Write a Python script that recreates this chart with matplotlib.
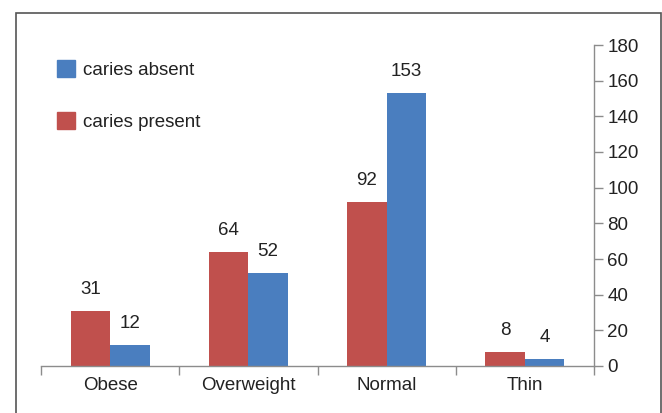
import matplotlib
matplotlib.use("Agg")
import matplotlib.pyplot as plt
from matplotlib.patches import Rectangle, Patch
import numpy as np

categories = ["Obese", "Overweight", "Normal", "Thin"]
caries_present = [31, 64, 92, 8]
caries_absent = [12, 52, 153, 4]
y_ticks = [0, 20, 40, 60, 80, 100, 120, 140, 160, 180]

RED = "#C0504D"
BLUE = "#4A7EBF"
TXT = "#222222"
GREY = "#8C8C8C"
FS = 13.5

plt.rcParams['font.family'] = ['Liberation Sans', 'DejaVu Sans']

W, H = 662, 413
fig = plt.figure(figsize=(W/100, H/100), dpi=100)
ax = fig.add_axes([41/W, 1-366/H, (594-41)/W, (366-45)/H])

x = np.arange(len(categories))
bw = 0.285
b1 = ax.bar(x - bw/2, caries_present, bw, color=RED, zorder=2)
b2 = ax.bar(x + bw/2, caries_absent, bw, color=BLUE, zorder=2)

for rects, vals in ((b1, caries_present), (b2, caries_absent)):
    for r, v in zip(rects, vals):
        ax.annotate(str(v), (r.get_x() + r.get_width()/2, v),
                    xytext=(0, 15.5), textcoords='offset points',
                    ha='center', va='center', fontsize=FS, color=TXT)

ax.set_xlim(-0.5, len(categories) - 0.5)
ax.set_ylim(y_ticks[0], y_ticks[-1])
ax.yaxis.tick_right()
ax.set_yticks(y_ticks)
ax.tick_params(axis='y', direction='out', length=6.5, width=1, color=GREY,
               labelsize=FS, labelcolor=TXT, pad=3)
ax.set_xticks(x)
ax.set_xticklabels(categories)
ax.set_xticks(np.arange(-0.5, len(categories), 1.0), minor=True)
ax.tick_params(axis='x', which='major', length=0, labelsize=FS, labelcolor=TXT, pad=8)
ax.tick_params(axis='x', which='minor', direction='out', length=6.5, width=1, color=GREY)

for s in ('left', 'top'):
    ax.spines[s].set_visible(False)
for s in ('right', 'bottom'):
    ax.spines[s].set_color(GREY)
    ax.spines[s].set_linewidth(1)

handles = [Patch(color=BLUE, label="caries absent"), Patch(color=RED, label="caries present")]
leg = fig.legend(handles=handles, loc='upper left', bbox_to_anchor=(57/W, 1-60/H),
                 frameon=False, fontsize=FS, handlelength=0.98, handleheight=0.98,
                 handletextpad=0.42, labelspacing=1.78, borderpad=0, borderaxespad=0)
for t in leg.get_texts():
    t.set_color(TXT)

fig.patches.append(Rectangle((16/W, -0.05), (661-16)/W, 1.05-13/H, transform=fig.transFigure,
                             fill=False, edgecolor="#555555", linewidth=1.2, clip_on=False))

fig.savefig("out.png", dpi=100)
